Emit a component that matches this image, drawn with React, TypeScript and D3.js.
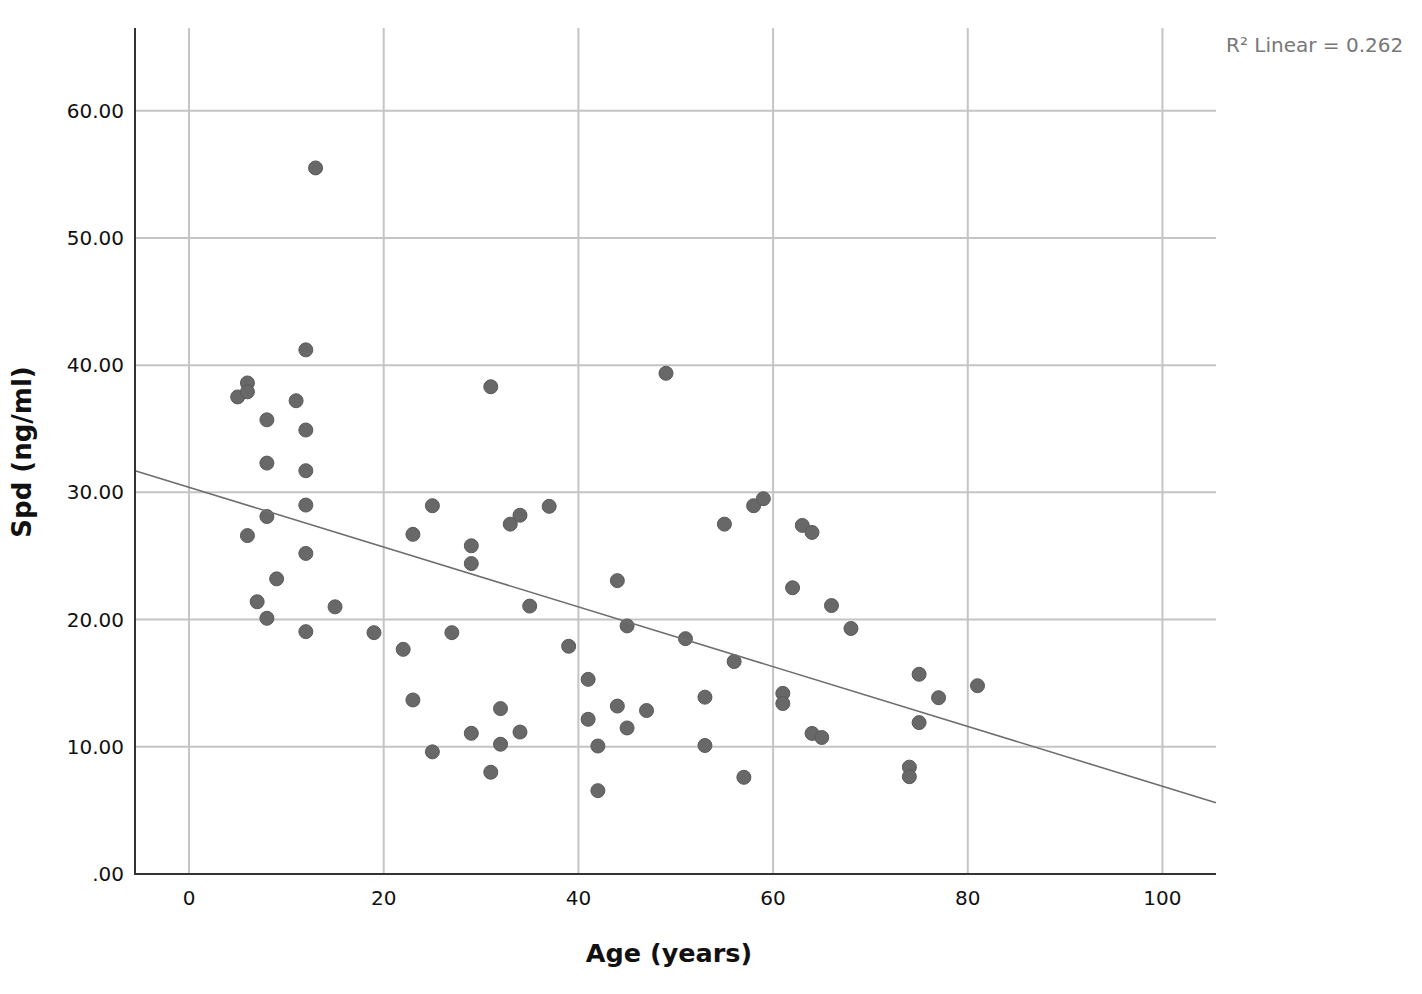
import React, { useEffect } from "react"
import * as d3 from "d3"

// Age (years) and Spd (ng/ml)
const ages = [
  5, 6, 6, 8, 11, 12, 12, 8, 12, 12, 8, 6, 12, 9, 7, 15, 8, 12, 13,
  25, 23, 29, 29, 33, 34, 37, 35, 19, 27, 22, 39, 23, 32, 29, 34, 32, 25, 31, 31,
  49, 44, 45, 51, 41, 44, 47, 41, 45, 42, 42,
  55, 58, 59, 63, 64, 62, 66, 68, 56, 53, 61, 61, 64, 65, 53, 57,
  75, 77, 81, 75, 74, 74,
]
const spd = [
  37.5, 38.6, 37.9, 35.7, 37.2, 41.2, 34.9, 32.3, 31.7, 29.0, 28.1, 26.6, 25.2, 23.2, 21.4, 21.0, 20.1, 19.05, 55.5,
  28.95, 26.7, 25.8, 24.4, 27.5, 28.2, 28.9, 21.06, 18.97, 18.97, 17.66, 17.9, 13.68, 13.0, 11.06, 11.16, 10.2, 9.6, 8.0, 38.3,
  39.36, 23.06, 19.5, 18.5, 15.3, 13.2, 12.85, 12.16, 11.48, 10.06, 6.55,
  27.5, 28.95, 29.5, 27.4, 26.85, 22.5, 21.1, 19.3, 16.7, 13.9, 14.2, 13.4, 11.05, 10.73, 10.1, 7.6,
  15.7, 13.86, 14.8, 11.9, 8.4, 7.65,
]

const xTicks = [0, 20, 40, 60, 80, 100]
const yTicks = [0, 10, 20, 30, 40, 50, 60]

// fitted line as drawn in the source (R² = 0.262)
const fitIntercept = 30.4
const fitSlope = -0.235
const r2Label = "R\u00b2 Linear = 0.262"

const WIDTH = 1422
const HEIGHT = 994
const PLOT = { left: 135, right: 1216, top: 28, bottom: 874 }
const FONT = "'DejaVu Sans', sans-serif"

export default function App() {
  useEffect(() => {
    document.body.style.margin = "0"
  }, [])

  const x = d3.scaleLinear().domain([-5.55, 105.5]).range([PLOT.left, PLOT.right])
  const y = d3.scaleLinear().domain([0, 66.5]).range([PLOT.bottom, PLOT.top])

  const points = ages.map((a, i) => ({ age: a, v: spd[i] }))
  const [x0, x1] = x.domain()
  const fit = d3.line<number>()
    .x((d) => x(d))
    .y((d) => y(fitIntercept + fitSlope * d))([x0, x1])

  const fmtY = (d: number) => (d === 0 ? ".00" : d.toFixed(2))

  return (
    <svg width={WIDTH} height={HEIGHT} style={{ display: "block", background: "#fff" }}>
      {/* grid */}
      <g stroke="#c4c4c4" strokeWidth={2}>
        {xTicks.map((t) => (
          <line key={`gx${t}`} x1={x(t)} x2={x(t)} y1={PLOT.top} y2={PLOT.bottom} />
        ))}
        {yTicks.filter((t) => t > 0).map((t) => (
          <line key={`gy${t}`} x1={PLOT.left} x2={PLOT.right} y1={y(t)} y2={y(t)} />
        ))}
      </g>

      {/* points */}
      <g fill="#686868" stroke="#5a5a5a" strokeWidth={1}>
        {points.map((p, i) => (
          <circle key={i} cx={x(p.age)} cy={y(p.v)} r={7} />
        ))}
      </g>

      {/* fit line */}
      <path d={fit ?? ""} fill="none" stroke="#6e6e6e" strokeWidth={1.6} />

      {/* axes */}
      <line x1={PLOT.left} x2={PLOT.left} y1={PLOT.top} y2={PLOT.bottom + 1} stroke="#333" strokeWidth={2} />
      <line x1={PLOT.left} x2={PLOT.right} y1={PLOT.bottom} y2={PLOT.bottom} stroke="#333" strokeWidth={2} />

      <g fontFamily={FONT} fontSize={20} fill="#111">
        {yTicks.map((t) => (
          <text key={`ty${t}`} x={124} y={y(t) + 7} textAnchor="end">{fmtY(t)}</text>
        ))}
        {xTicks.map((t) => (
          <text key={`tx${t}`} x={x(t)} y={905} textAnchor="middle">{t}</text>
        ))}
      </g>

      <text x={669} y={962} textAnchor="middle" fontFamily={FONT} fontWeight="bold" fontSize={25.5} fill="#111">
        Age (years)
      </text>
      <text
        transform={`translate(31,452) rotate(-90)`}
        textAnchor="middle"
        fontFamily={FONT}
        fontWeight="bold"
        fontSize={26}
        fill="#111"
      >
        Spd (ng/ml)
      </text>

      <text x={1226} y={52} fontFamily={FONT} fontSize={20} fill="#777">{r2Label}</text>
    </svg>
  )
}
